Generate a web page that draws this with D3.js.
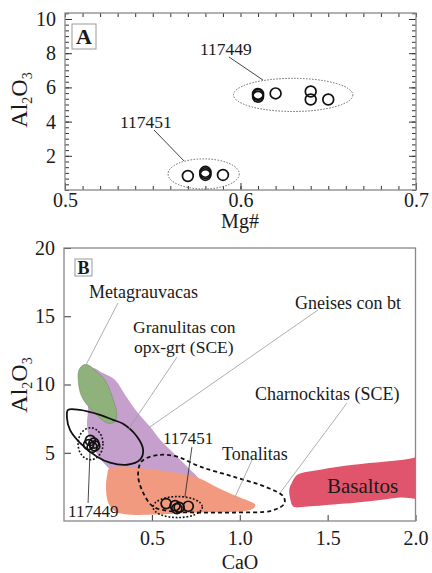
<!DOCTYPE html>
<html>
<head>
<meta charset="utf-8">
<script src="https://cdn.jsdelivr.net/npm/d3@7"></script>
<style>
  body { margin: 0; background: #fff; }
  text { font-family: "Liberation Serif", "DejaVu Serif", serif; fill: #1a1a1a; }
</style>
</head>
<body>
<svg id="chart" width="432" height="573"></svg>
<script>
// ---- panel A data (Mg#, Al2O3) ----
const samplesA449 = [[0.61, 5.45], [0.61, 5.55], [0.61, 5.62], [0.62, 5.65], [0.64, 5.76], [0.64, 5.29], [0.65, 5.29]];
const samplesA451 = [[0.57, 0.82], [0.58, 0.88], [0.58, 0.98], [0.58, 1.06], [0.59, 0.88]];
// ellipse groups: [cx, cy, rx, ry]
const groupsA = [[0.630, 5.56, 0.034, 0.97], [0.579, 0.94, 0.0203, 0.88]];
const labelsA = [["117449", 0.5769, 7.89], ["117451", 0.5313, 3.63]];
const leadersA = [[0.5934, 7.78, 0.6128, 6.43], [0.5507, 3.51, 0.5678, 1.70]];
const xTicksA = [0.5, 0.6, 0.7];
const yTicksA = [2, 4, 6, 8, 10];

// ---- panel B data (CaO, Al2O3) ----
const granulitas = [[0.160, 11.20], [0.222, 10.84], [0.291, 10.33], [0.348, 9.23], [0.416, 7.99], [0.490, 6.90],
  [0.547, 5.95], [0.621, 5.00], [0.701, 3.98], [0.758, 3.25], [0.781, 2.74], [0.746, 1.93], [0.319, 3.03],
  [0.251, 3.91], [0.194, 4.78], [0.148, 5.95], [0.131, 7.04], [0.137, 8.14], [0.137, 9.60]];
const metagrauvacas = [[0.110, 11.43], [0.138, 11.43], [0.176, 11.06], [0.233, 10.33], [0.281, 8.86], [0.300, 7.89],
  [0.290, 7.27], [0.252, 7.16], [0.176, 7.89], [0.101, 9.11], [0.081, 10.33], [0.085, 11.06]];
const tonalitas = [[0.256, 3.83], [0.302, 3.98], [0.416, 3.91], [0.604, 3.61], [0.758, 3.18], [0.872, 2.45],
  [0.963, 1.93], [1.060, 1.42], [1.088, 1.20], [1.077, 0.91], [1.003, 0.69], [0.775, 0.62], [0.507, 0.47],
  [0.359, 0.47], [0.291, 0.69], [0.251, 1.35], [0.239, 2.52], [0.245, 3.32]];
const basaltos = [[1.328, 3.39], [1.459, 3.76], [1.647, 4.12], [1.818, 4.34], [1.932, 4.49], [2.06, 4.60],
  [2.06, 1.75], [1.915, 1.72], [1.726, 1.42], [1.533, 1.20], [1.385, 1.06], [1.305, 1.06], [1.288, 1.57],
  [1.282, 2.30], [1.299, 2.88]];
const gneises = [[0.023, 8.14], [0.091, 8.14], [0.205, 7.77], [0.279, 7.41], [0.336, 7.12], [0.416, 6.17],
  [0.450, 5.22], [0.433, 4.49], [0.359, 4.12], [0.262, 4.27], [0.188, 4.71], [0.091, 5.73], [0.034, 6.68],
  [0.017, 7.55]];
const charnockitas = [[0.462, 4.56], [0.547, 4.85], [0.644, 4.71], [0.775, 3.98], [0.963, 3.25], [1.157, 2.45],
  [1.248, 1.79], [1.254, 1.28], [1.185, 0.77], [0.963, 0.62], [0.775, 0.62], [0.621, 0.69], [0.507, 1.06],
  [0.450, 2.08], [0.422, 3.25], [0.433, 4.20]];
const samplesB449 = [[0.14, 5.6], [0.15, 5.9], [0.16, 5.4], [0.17, 5.7], [0.175, 5.5]];
const samplesB451 = [[0.581, 1.28], [0.632, 1.13], [0.642, 0.91], [0.655, 1.0], [0.707, 1.08]];
const groupsB = [[0.151, 5.66, 0.071, 1.17], [0.647, 1.02, 0.140, 0.77]];
const labelsB = [["Metagrauvacas", 0.142, 16.34, 18], ["Granulitas con", 0.393, 13.80, 17.5], ["opx-grt (SCE)", 0.398, 12.31, 17.5],
  ["Gneises con bt", 1.314, 15.53, 18], ["Charnockitas (SCE)", 1.087, 8.86, 18], ["117451", 0.563, 5.64, 17],
  ["Tonalitas", 0.899, 4.47, 18], ["Basaltos", 1.496, 2.05, 21], ["117449", 0.023, 0.29, 17]];
// leaders: x1, y1, x2, y2, dark?
const leadersB = [[0.307, 15.97, 0.125, 11.43, 0], [0.643, 12.01, 0.364, 6.67, 0], [1.445, 15.46, 0.489, 6.89, 0],
  [1.610, 8.64, 1.229, 2.05, 0], [0.728, 5.42, 0.688, 1.76, 1], [1.070, 4.47, 0.973, 1.76, 0], [0.137, 1.32, 0.148, 5.05, 1]];
const xTicksB = [0.5, 1.0, 1.5, 2.0];
const yTicksB = [5, 10, 15, 20];

const svg = d3.select("#chart");
svg.append("rect").attr("width", 432).attr("height", 573).attr("fill", "#fff");

function styleAxis(g, size) {
  g.attr("font-family", null).attr("font-size", size);
  g.select(".domain").remove();
  g.selectAll(".tick line").attr("stroke", "#333").attr("stroke-width", 1);
  g.selectAll(".tick text").attr("fill", "#1a1a1a");
}

function ylabel(g, x, y) {
  const t = g.append("text").attr("transform", `translate(${x},${y}) rotate(-90)`)
    .attr("text-anchor", "middle").attr("font-size", 24);
  t.append("tspan").text("Al");
  t.append("tspan").attr("font-size", 14).attr("dy", 5).text("2");
  t.append("tspan").attr("dy", -5).text("O");
  t.append("tspan").attr("font-size", 14).attr("dy", 5).text("3");
}

function panelLetter(g, x, y, w, h, letter, size) {
  g.append("rect").attr("x", x).attr("y", y).attr("width", w).attr("height", h)
    .attr("fill", "#fff").attr("stroke", "#999").attr("stroke-width", 1);
  g.append("text").attr("x", x + w / 2).attr("y", y + h / 2).attr("dy", "0.36em")
    .attr("text-anchor", "middle").attr("font-weight", "bold").attr("font-size", size).text(letter);
}

function circles(g, pts, x, y, r) {
  g.append("g").selectAll("circle").data(pts).join("circle")
    .attr("cx", d => x(d[0])).attr("cy", d => y(d[1])).attr("r", r)
    .attr("fill", "none").attr("stroke", "#111").attr("stroke-width", 1.7);
}

function ellipses(g, data, x, y, stroke, width, dash) {
  g.append("g").selectAll("ellipse").data(data).join("ellipse")
    .attr("cx", d => x(d[0])).attr("cy", d => y(d[1]))
    .attr("rx", d => x(d[0] + d[2]) - x(d[0])).attr("ry", d => y(d[1] - d[3]) - y(d[1]))
    .attr("fill", "none").attr("stroke", stroke).attr("stroke-width", width).attr("stroke-dasharray", dash);
}

// ================= Panel A =================
{
  const x = d3.scaleLinear().domain([0.5, 0.7]).range([65, 416]);
  const y = d3.scaleLinear().domain([0, 10.35]).range([190, 13]);
  const g = svg.append("g");
  const minorX = d3.range(50, 71).map(d => d / 100);
  const minorY = d3.range(0, 32).map(d => d / 3);

  g.append("g").attr("transform", "translate(0,190)")
    .call(d3.axisBottom(x).tickValues(minorX).tickSize(-4).tickFormat("")).call(styleAxis, 20);
  g.append("g").attr("transform", "translate(0,190)")
    .call(d3.axisBottom(x).tickValues(xTicksA).tickSize(-7).tickPadding(3).tickFormat(d3.format(".1f"))).call(styleAxis, 20);
  g.append("g").attr("transform", "translate(0,13)")
    .call(d3.axisTop(x).tickValues(minorX).tickSize(-4).tickFormat("")).call(styleAxis, 20);
  g.append("g").attr("transform", "translate(65,0)")
    .call(d3.axisLeft(y).tickValues(minorY).tickSize(-4).tickFormat("")).call(styleAxis, 20);
  g.append("g").attr("transform", "translate(65,0)")
    .call(d3.axisLeft(y).tickValues(yTicksA).tickSize(-7).tickPadding(9)).call(styleAxis, 20);
  g.append("g").attr("transform", "translate(416,0)")
    .call(d3.axisRight(y).tickValues(minorY).tickSize(-4).tickFormat("")).call(styleAxis, 20);
  g.append("g").attr("transform", "translate(416,0)")
    .call(d3.axisRight(y).tickValues(yTicksA).tickSize(-7).tickFormat("")).call(styleAxis, 20);

  g.append("rect").attr("x", 65).attr("y", 13).attr("width", 351).attr("height", 177)
    .attr("fill", "none").attr("stroke", "#888").attr("stroke-width", 1.3);

  ellipses(g, groupsA, x, y, "#666", 1, "1.5,1.5");
  circles(g, samplesA449, x, y, 5.4);
  circles(g, samplesA451, x, y, 5.4);

  g.append("g").selectAll("line").data(leadersA).join("line")
    .attr("x1", d => x(d[0])).attr("y1", d => y(d[1])).attr("x2", d => x(d[2])).attr("y2", d => y(d[3]))
    .attr("stroke", "#444").attr("stroke-width", 1);
  g.append("g").selectAll("text").data(labelsA).join("text")
    .attr("x", d => x(d[1])).attr("y", d => y(d[2])).attr("font-size", 17.5).text(d => d[0]);

  panelLetter(g, 72, 24, 24, 25, "A", 22);
  ylabel(g, 27, 100);
  g.append("text").attr("x", 240).attr("y", 228).attr("text-anchor", "middle").attr("font-size", 20).text("Mg#");
}

// ================= Panel B =================
{
  const x = d3.scaleLinear().domain([0, 2]).range([64, 415.5]);
  const y = d3.scaleLinear().domain([0, 20]).range([521, 248]);
  const g = svg.append("g");

  g.append("clipPath").attr("id", "clipB").append("rect")
    .attr("x", 64).attr("y", 248).attr("width", 351.5).attr("height", 273);

  const area = d3.line().x(d => x(d[0])).y(d => y(d[1])).curve(d3.curveCatmullRomClosed.alpha(0.5));
  const fields = g.append("g").attr("clip-path", "url(#clipB)");
  fields.append("path").attr("d", area(granulitas)).attr("fill", "#c6a0cc");
  fields.append("path").attr("d", area(metagrauvacas)).attr("fill", "#8fb27c")
    .attr("stroke", "#6f9460").attr("stroke-width", 0.6);
  fields.append("path").attr("d", area(tonalitas)).attr("fill", "#f29a7f");
  fields.append("path").attr("d", area(basaltos)).attr("fill", "#e0556b");
  fields.append("path").attr("d", area(gneises)).attr("fill", "none")
    .attr("stroke", "#111").attr("stroke-width", 1.8);
  fields.append("path").attr("d", area(charnockitas)).attr("fill", "none")
    .attr("stroke", "#111").attr("stroke-width", 1.8).attr("stroke-dasharray", "4,3");

  g.append("g").selectAll("line").data(leadersB).join("line")
    .attr("x1", d => x(d[0])).attr("y1", d => y(d[1])).attr("x2", d => x(d[2])).attr("y2", d => y(d[3]))
    .attr("stroke", d => d[4] ? "#333" : "#999").attr("stroke-width", d => d[4] ? 0.9 : 0.8);

  ellipses(g, groupsB, x, y, "#111", 1.6, "1.8,1.8");
  circles(g, samplesB449, x, y, 5);
  circles(g, samplesB451, x, y, 5);

  g.append("g").selectAll("text").data(labelsB).join("text")
    .attr("x", d => x(d[1])).attr("y", d => y(d[2])).attr("font-size", d => d[3]).text(d => d[0]);

  g.append("g").attr("transform", "translate(0,521)")
    .call(d3.axisBottom(x).tickValues(xTicksB).tickSize(-6).tickPadding(10).tickFormat(d3.format(".1f"))).call(styleAxis, 20);
  g.append("g").attr("transform", "translate(64,0)")
    .call(d3.axisLeft(y).tickValues(yTicksB).tickSize(-7).tickPadding(9)).call(styleAxis, 20);

  g.append("rect").attr("x", 64).attr("y", 248).attr("width", 351.5).attr("height", 273)
    .attr("fill", "none").attr("stroke", "#888").attr("stroke-width", 1.3);

  panelLetter(g, 75, 259, 17, 17, "B", 18);
  ylabel(g, 27, 385);
  g.append("text").attr("x", 240).attr("y", 569).attr("text-anchor", "middle").attr("font-size", 20).text("CaO");
}
</script>
</body>
</html>
